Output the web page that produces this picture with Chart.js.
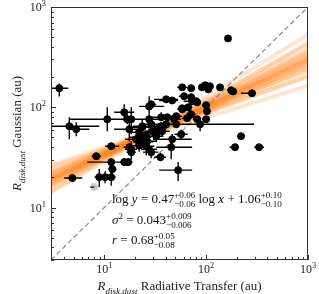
<!DOCTYPE html>
<html>
<head>
<meta charset="utf-8">
<script src="https://cdn.jsdelivr.net/npm/chart.js@4.4.0/dist/chart.umd.min.js"></script>
<style>
  html, body { margin: 0; padding: 0; background: #fff; }
</style>
</head>
<body>
<canvas id="chart" width="319" height="294"></canvas>
<script>
// Radiative transfer size (x) and Gaussian size (y), in au, with error ranges
const rtSize = [3.62, 4.54, 5.31, 10.7, 15.7, 17.6, 18.4, 16.8, 23.6, 27.6,
  28.9, 27.6, 36.2, 40.5, 46.4, 58.2, 71.3, 91, 98, 109,
  105, 137, 176, 184, 282, 164, 71.3, 72.9, 79.8, 81.6,
  58.2, 66.6, 100, 71.3, 41.5, 50.8, 65.1, 81.6, 100, 87.3,
  220, 192, 331, 45.4, 35.6, 53.1, 20.6, 23.1, 25.8, 26.4,
  25.8, 24.7, 22.0, 23.6, 28.9, 33.1, 36.2, 40.5, 48.6, 46.4,
  32.4, 29.9, 37.0, 50.8, 56.9, 27.6, 28.9, 60.8, 58.2, 102,
  4.86, 8.93, 10.2, 11.7, 12.0, 8.35, 11.7, 15.7, 17.2, 18.4,
  11.7, 17.6, 18.4, 22.0];
const rtLo = [3.0, 3.02, 4.54, 4.54, 12.5, 12.5, 14.0, 11.7, 17.6, 22.0,
  25.8, 20.6, 27.6, 30.9, 34.6, 52, 66, 85, 92, 103,
  99, 128, 166, 174, 220, 158, 65, 60, 73, 75,
  53, 60, 92, 64, 35, 44, 58, 74, 92, 34.6,
  205, 170, 296, 32.4, 30.9, 34.6, 16, 18, 20, 21,
  21, 20, 17, 19, 23, 27, 30, 34, 41, 30,
  27, 25, 31, 44, 49, 23, 24, 54, 52, 94,
  4.05, 8.0, 9.2, 10.5, 11.0, 7.5, 6.81, 14, 15.5, 16.5,
  10.2, 15.5, 16, 19];
const rtHi = [4.43, 8.93, 7.13, 34.6, 19.7, 24.7, 27.6, 22.0, 30.9, 38.7,
  32.4, 36.2, 45.4, 53.1, 53.1, 65, 77, 97, 104, 115,
  111, 146, 186, 194, 290, 170, 78, 88, 87, 89,
  64, 73, 108, 79, 48, 58, 72, 89, 108, 296,
  235, 206, 370, 72.9, 40.5, 72.9, 26, 29, 32, 33,
  31, 30, 28, 29, 36, 40, 43, 48, 57, 72,
  38, 35, 44, 58, 66, 33, 34, 68, 65, 110,
  6.08, 10.0, 11.3, 13.0, 13.2, 9.3, 14.7, 17.5, 19, 20.5,
  14.0, 20, 21, 25.5];
const gaussSize = [155, 64.7, 60.4, 76.0, 89.2, 60.4, 76.0, 76.0, 63.2, 102,
  107, 76.0, 79.5, 120, 117, 158, 155, 158, 166, 162,
  151, 158, 148, 144, 138, 486, 126, 115, 115, 112,
  97.7, 100, 105, 85.2, 79.5, 81.4, 77.7, 76.0, 76.0, 67.7,
  51.5, 40.0, 40.0, 40.0, 31.8, 23.6, 48.0, 50.3, 51.5, 45.9,
  40.9, 44.9, 56.4, 64.7, 67.7, 60.4, 64.7, 67.7, 76.0, 48.0,
  51.5, 57.7, 57.7, 67.7, 53.9, 38.2, 35.7, 129, 95.5, 91.2,
  19.7, 20.1, 20.1, 20.1, 24.2, 32.5, 28.4, 28.4, 28.4, 35.7,
  40.9, 40.0, 38.2, 41.5];
const gaussLo = [128, 48.0, 51.5, 57.7, 72.6, 45.9, 53.9, 67.7, 53.9, 76.0,
  95.5, 67.7, 72.6, 112, 110, 148, 146, 150, 158, 154,
  143, 150, 141, 137, 132, 470, 118, 108, 108, 105,
  91, 93, 98, 78, 74, 75, 72, 70, 70, 57.7,
  48, 37, 37, 30.4, 29, 18.4, 42, 44, 45, 40,
  33, 39, 50, 58, 61, 54, 58, 61, 69, 42,
  46, 52, 52, 62, 48, 33, 31, 121, 89, 85,
  18.4, 16.0, 17.5, 16.5, 21.5, 30, 26, 26, 26, 32,
  38, 36, 30, 36];
const gaussHi = [173, 79.5, 71.0, 100, 107, 79.5, 100, 85.2, 76.0, 129,
  117, 85.2, 89.2, 129, 124, 166, 163, 166, 174, 170,
  159, 166, 155, 151, 144, 500, 134, 122, 122, 119,
  105, 107, 112, 92, 85, 88, 84, 82, 82, 79.5,
  55, 43, 43, 44.9, 35, 28.4, 54, 57, 58, 52,
  48, 51, 63, 71, 74, 67, 71, 74, 83, 54,
  57, 64, 64, 74, 60, 44, 40, 137, 102, 98,
  21.0, 24.2, 23.0, 23.6, 27, 35, 31, 31, 31, 39,
  44, 44, 46, 47];

// source drawn in grey
const greyX = [7.98];
const greyY = [16.0];
const greyXLo = [7.3];

// posterior draws of the fit log y = a log x + b
const bandSlopes = [0.32, 0.35, 0.38, 0.40, 0.41, 0.422, 0.434, 0.443, 0.452, 0.458, 0.464, 0.47,
  0.476, 0.482, 0.488, 0.497, 0.506, 0.518, 0.53, 0.54, 0.56, 0.59, 0.62];
const bandIntercepts = [1.256, 1.253, 1.175, 1.181, 1.132, 1.149, 1.097, 1.119, 1.071, 1.097, 1.054, 1.060,
  1.067, 1.028, 1.054, 1.006, 1.028, 0.976, 0.994, 0.944, 0.951, 0.872, 0.864];

const axisMin = 3, axisMax = 1000;
const majorTicks = [10, 100, 1000];
const tickExponents = ['1', '2', '3'];

const SERIF = '"Liberation Serif", "DejaVu Serif", serif';

// rich text: parts are {t, i} or {sup, sub}
function richWidth(ctx, parts, size) {
  let w = 0;
  for (const p of parts) {
    if (p.sup !== undefined || p.sub !== undefined) {
      ctx.font = `${p.i ? 'italic ' : ''}${size * 0.7}px ${SERIF}`;
      w += Math.max(ctx.measureText(p.sup || '').width, ctx.measureText(p.sub || '').width);
    } else {
      ctx.font = `${p.i ? 'italic ' : ''}${size}px ${SERIF}`;
      w += ctx.measureText(p.t).width;
    }
  }
  return w;
}
function drawRich(ctx, x, y, parts, size) {
  let cx = x;
  ctx.textAlign = 'left';
  ctx.textBaseline = 'alphabetic';
  for (const p of parts) {
    if (p.sup !== undefined || p.sub !== undefined) {
      ctx.font = `${p.i ? 'italic ' : ''}${size * 0.7}px ${SERIF}`;
      const w = Math.max(ctx.measureText(p.sup || '').width, ctx.measureText(p.sub || '').width);
      if (p.sup) ctx.fillText(p.sup, cx, y - size * 0.42);
      if (p.sub) ctx.fillText(p.sub, cx, y + size * 0.3);
      cx += w;
    } else {
      ctx.font = `${p.i ? 'italic ' : ''}${size}px ${SERIF}`;
      ctx.fillText(p.t, cx, y);
      cx += ctx.measureText(p.t).width;
    }
  }
}

const points = rtSize.map((x, i) => ({ x: x, y: gaussSize[i] }));
const greyPoints = greyX.map((x, i) => ({ x: x, y: greyY[i] }));

const bandSets = bandSlopes.map((a, i) => ({
  type: 'line',
  data: [
    { x: axisMin, y: Math.pow(10, a * Math.log10(axisMin) + bandIntercepts[i]) },
    { x: axisMax, y: Math.pow(10, a * Math.log10(axisMax) + bandIntercepts[i]) }
  ],
  borderColor: 'rgba(255,127,14,0.2)',
  borderWidth: 4,
  pointRadius: 0,
  clip: 0,
  order: 5
}));

const decor = {
  id: 'decor',
  beforeDatasetDraw(chart, args) {
    if (args.index !== 0) return;
    const { ctx, chartArea: a, scales: { x, y } } = chart;
    ctx.save();
    ctx.beginPath();
    ctx.rect(a.left, a.top, a.right - a.left, a.bottom - a.top);
    ctx.clip();
    ctx.strokeStyle = '#000';
    ctx.lineWidth = 1.4;
    ctx.beginPath();
    for (let i = 0; i < rtSize.length; i++) {
      const px = x.getPixelForValue(rtSize[i]);
      const py = y.getPixelForValue(gaussSize[i]);
      ctx.moveTo(x.getPixelForValue(rtLo[i]), py);
      ctx.lineTo(x.getPixelForValue(rtHi[i]), py);
      ctx.moveTo(px, y.getPixelForValue(gaussLo[i]));
      ctx.lineTo(px, y.getPixelForValue(gaussHi[i]));
    }
    for (let i = 0; i < greyX.length; i++) {
      const py = y.getPixelForValue(greyY[i]);
      ctx.moveTo(x.getPixelForValue(greyXLo[i]), py);
      ctx.lineTo(x.getPixelForValue(greyX[i]), py);
    }
    ctx.stroke();
    ctx.restore();
  },
  afterDraw(chart) {
    const { ctx, chartArea: a, scales: { x, y } } = chart;
    ctx.save();
    // frame
    ctx.strokeStyle = '#333';
    ctx.lineWidth = 1;
    ctx.strokeRect(a.left + 0.5, a.top + 0.5, a.right - a.left - 1, a.bottom - a.top - 1);
    // ticks (inward, left and bottom)
    ctx.beginPath();
    for (let d = 1; d <= 100; d *= 10) {
      for (let m = 2; m <= 9; m++) {
        const v = m * d;
        if (v < axisMin || v > axisMax) continue;
        const px = Math.round(x.getPixelForValue(v)) + 0.5;
        const py = Math.round(y.getPixelForValue(v)) + 0.5;
        ctx.moveTo(px, a.bottom); ctx.lineTo(px, a.bottom - 3);
        ctx.moveTo(a.left, py); ctx.lineTo(a.left + 3, py);
      }
    }
    majorTicks.forEach(v => {
      const px = Math.round(x.getPixelForValue(v)) + 0.5;
      const py = Math.round(y.getPixelForValue(v)) + 0.5;
      ctx.moveTo(px, a.bottom); ctx.lineTo(px, a.bottom - 5);
      ctx.moveTo(a.left, py); ctx.lineTo(a.left + 5, py);
    });
    ctx.stroke();

    // tick labels
    ctx.fillStyle = '#222';
    majorTicks.forEach((v, i) => {
      const parts = [{ t: '10' }, { sup: tickExponents[i] }];
      const w = richWidth(ctx, parts, 12);
      drawRich(ctx, x.getPixelForValue(v) - w / 2, a.bottom + 13, parts, 12);
      drawRich(ctx, a.left - 5 - w, y.getPixelForValue(v) + 4, parts, 12);
    });

    // axis titles
    const xTitle = [{ t: 'R', i: 1 }, { sub: 'disk,dust', i: 1 }, { t: ' Radiative Transfer (au)' }];
    const xw = richWidth(ctx, xTitle, 13);
    drawRich(ctx, (a.left + a.right) / 2 - xw / 2, 290, xTitle, 13);

    const yTitle = [{ t: 'R', i: 1 }, { sub: 'disk,dust', i: 1 }, { t: ' Gaussian (au)' }];
    const yw = richWidth(ctx, yTitle, 13);
    ctx.save();
    ctx.translate(21, (a.top + a.bottom) / 2);
    ctx.rotate(-Math.PI / 2);
    drawRich(ctx, -yw / 2, 0, yTitle, 13);
    ctx.restore();

    // fit annotations
    ctx.fillStyle = '#111';
    drawRich(ctx, 112, 203, [
      { t: 'log ' }, { t: 'y', i: 1 }, { t: ' = 0.47' }, { sup: '+0.06', sub: '\u22120.06' },
      { t: ' log ' }, { t: 'x', i: 1 }, { t: ' + 1.06' }, { sup: '+0.10', sub: '\u22120.10' }
    ], 13);
    drawRich(ctx, 112, 224, [
      { t: '\u03c3', i: 1 }, { sup: '2' }, { t: ' = 0.043' }, { sup: '+0.009', sub: '\u22120.006' }
    ], 13);
    drawRich(ctx, 112, 244, [
      { t: 'r', i: 1 }, { t: ' = 0.68' }, { sup: '+0.05', sub: '\u22120.08' }
    ], 13);
    ctx.restore();
  }
};

new Chart(document.getElementById('chart'), {
  type: 'scatter',
  data: {
    datasets: [
      {
        data: points,
        backgroundColor: '#000',
        borderColor: '#000',
        pointRadius: 3.5,
        pointHoverRadius: 3.5,
        order: 0
      },
      {
        data: greyPoints,
        backgroundColor: '#c8c8c8',
        borderColor: '#c8c8c8',
        pointRadius: 3.5,
        order: 1
      },
      {
        type: 'line',
        data: [{ x: axisMin, y: axisMin }, { x: axisMax, y: axisMax }],
        borderColor: '#8a8a8a',
        borderWidth: 1.2,
        borderDash: [5, 3],
        pointRadius: 0,
        clip: 0,
        order: 2
      },
      ...bandSets
    ]
  },
  options: {
    responsive: false,
    animation: false,
    devicePixelRatio: 1,
    layout: { padding: { left: 51, right: 11, top: 7, bottom: 34 } },
    plugins: { legend: { display: false }, tooltip: { enabled: false } },
    scales: {
      x: { type: 'logarithmic', min: axisMin, max: axisMax, display: false },
      y: { type: 'logarithmic', min: axisMin, max: axisMax, display: false }
    }
  },
  plugins: [decor]
});
</script>
</body>
</html>
